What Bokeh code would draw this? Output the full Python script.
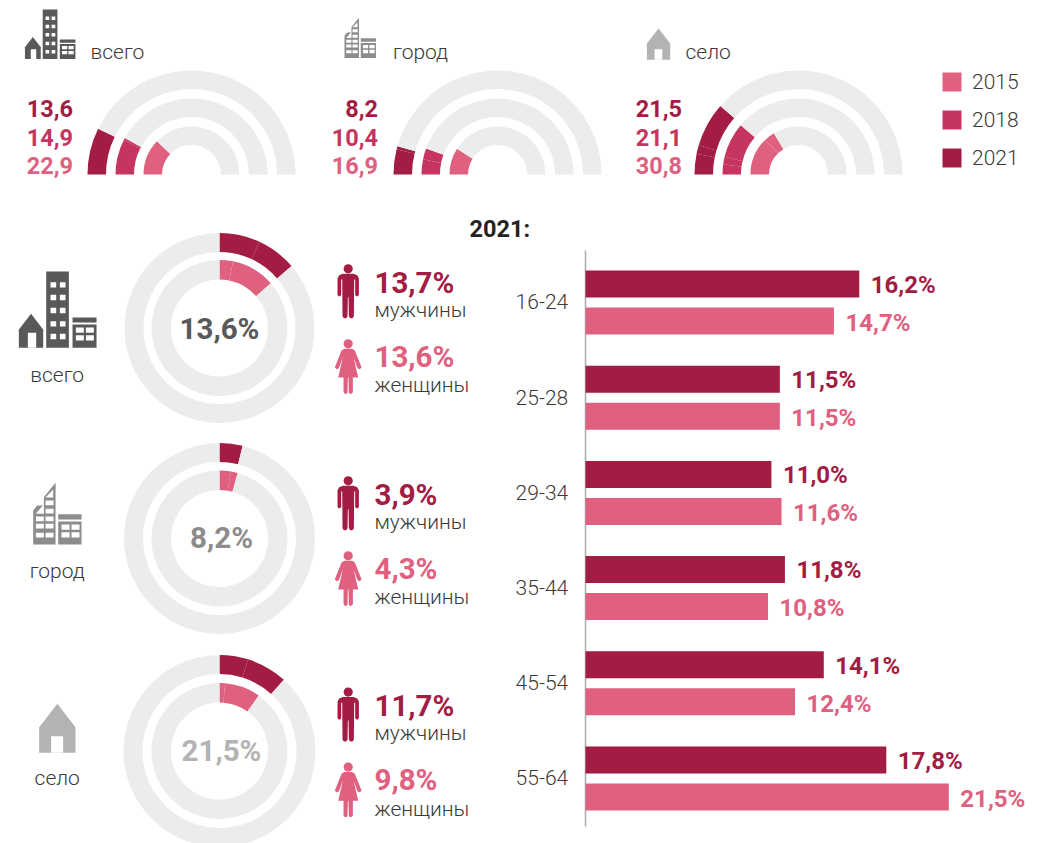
import math
from bokeh.plotting import figure
from bokeh.models import Range1d
from bokeh.core.properties import value
from bokeh.embed import file_html
from bokeh.resources import INLINE

# ---------- data ----------
years = ["2015", "2018", "2021"]
areas = ["всего", "город", "село"]
arc_2021 = [13.6, 8.2, 21.5]
arc_2018 = [14.9, 10.4, 21.1]
arc_2015 = [22.9, 16.9, 30.8]
# sub-parts of every filled arc, outer to inner ring
arc_parts = [
    [[13.6], [14.1, 0.8], [22.9]],
    [[7.3, 0.9], [6.0, 4.4], [16.9]],
    [[6.0, 2.5, 13.0], [4.0, 3.0, 14.1], [24.0, 6.8]],
]
arc_rest_split = [[19.2, None, 33.2], [10.1, None, 22.2], [None, None, None]]
arc_full_scale = 93.75

total_2021 = ["13,6%", "8,2%", "21,5%"]
men = [13.7, 3.9, 11.7]
women = [13.6, 4.3, 9.8]
men_parts = [[6.9, 6.8], [3.9], [4.8, 6.9]]
women_parts = [[3.2, 10.4], [2.7, 1.6], [1.3, 8.5]]

age_groups = ["16-24", "25-28", "29-34", "35-44", "45-54", "55-64"]
age_2021 = [16.2, 11.5, 11.0, 11.8, 14.1, 17.8]
age_2015 = [14.7, 11.5, 11.6, 10.8, 12.4, 21.5]

# ---------- style / layout ----------
DARK, MID, LIGHT, GREY = "#A31C44", "#C63560", "#E0607F", "#ECECEC"
TXT = "#3A3A3A"
ICON = ["#595959", "#8C8C8C", "#B3B3B3"]
REG, THIN = value("Roboto"), value("Roboto Light")
PAGE_W, PAGE_H = 1046, 843
BASE_SHIFT = 0.36  # em; the renderer places "alphabetic" text this far below the anchor


def Y(py):
    return PAGE_H - py


p = figure(width=PAGE_W, height=PAGE_H, x_range=Range1d(0, PAGE_W), y_range=Range1d(0, PAGE_H),
           output_backend="svg", toolbar_location=None, min_border=0, outline_line_color=None,
           background_fill_color="white", border_fill_color="white")
p.axis.visible = False
p.grid.visible = False
BAR_PX = 16.9
BAR_X0 = 585
p.extra_x_ranges["bars"] = Range1d((0 - BAR_X0) / BAR_PX, (PAGE_W - BAR_X0) / BAR_PX)


def txt(x, py, s, size, color, font=REG, style="normal", align="left"):
    p.text([x], [Y(py - BASE_SHIFT * size)], text=[s], text_font=font, text_font_style=style,
           text_font_size=f"{size}px", text_color=color, text_align=align,
           text_baseline="alphabetic")


def wedge(cx, cy, r0, r1, a0, a1, color):
    p.annular_wedge([cx], [Y(cy)], inner_radius=r0, outer_radius=r1,
                    start_angle=a0, end_angle=a1, direction="clock",
                    fill_color=color, line_color=None)


def parts_ring(cx, cy, r0, r1, base, per_unit, parts, color, rest_split, full):
    """Clockwise ring built from value parts, then its grey remainder."""
    v = 0.0
    for q in parts:
        wedge(cx, cy, r0, r1, base - v * per_unit, base - (v + q) * per_unit, color)
        v += q
    marks = [v] + ([rest_split] if rest_split else []) + [full]
    for a, b in zip(marks[:-1], marks[1:]):
        wedge(cx, cy, r0, r1, base - a * per_unit, base - b * per_unit, GREY)


def shape(pts, x0, y0, k, color):
    p.patch([x0 + a * k for a, b in pts], [Y(y0 + b * k) for a, b in pts],
            fill_color=color, line_color=None)


def box(x0, y0, k, l, r, t, b, color):
    p.quad(left=[x0 + l * k], right=[x0 + r * k], top=[Y(y0 + t * k)], bottom=[Y(y0 + b * k)],
           fill_color=color, line_color=None)


def block(x0, y0, k, c, l=163, t=138, r=235, bar=15, gap=6, bot=229):
    box(x0, y0, k, l, r, t, t + bar, c)
    box(x0, y0, k, l, r, t + bar + gap, bot, c)
    for wx in (l + 10, l + 40):
        for wy in (t + bar + gap + 9, t + bar + gap + 32):
            box(x0, y0, k, wx, wx + 24, wy, wy + 16, "white")


def house(x0, y0, k, c, w=77, top=0, eave=50, bot=102, door=(29, 54), dy=72):
    shape([(w / 2, top), (w, eave), (w - 2, eave), (w - 2, bot), (2, bot), (2, eave), (0, eave)],
          x0, y0, k, c)
    box(x0, y0, k, door[0], door[1], top + dy - 15, bot, "white")


def icon_all(x0, y0, k):
    c = ICON[0]
    house(x0, y0 + 127 * k, k, c)
    box(x0, y0, k, 84, 152, 0, 229, c)
    for row in (32, 70, 109, 149, 187):
        for col in (97, 125):
            box(x0, y0, k, col, col + 17, row, row + 16, "white")
    block(x0, y0, k, c)


def icon_city(x0, y0, k):
    c = ICON[1]
    shape([(0, 83), (67, 0), (67, 185), (0, 185)], x0, y0, k, c)
    for row in (150, 123, 101, 78, 53):
        for col in (8, 37):
            if row < 80 and col == 8:
                shape([(8, row + 15), (32, row + 15), (32, row - 14)], x0, y0, k, "white")
            else:
                box(x0, y0, k, col, col + 24, row, row + 14, "white")
    shape([(37, 44), (60, 44), (60, 20)], x0, y0, k, "white")
    block(x0, y0, k, c, l=75, t=94, r=145, bar=16, gap=6, bot=185)


def icon_village(x0, y0, k):
    c = ICON[2]
    house(x0, y0, k, c, w=113, top=0, eave=73, bot=147, door=(38, 74), dy=112)


def person(x, y, pts, color):
    p.circle([x], [Y(y)], radius=4.6, fill_color=color, line_color=None)
    shape(pts, x, y, 1 / 3, color)


MALE = [(-16, 15), (16, 15), (27, 19), (32, 28), (32, 78), (29, 82), (24, 82), (21, 78), (21, 32),
        (18, 32), (17, 142), (13, 148), (6, 148), (2, 142), (1, 85), (-1, 85), (-2, 142), (-6, 148),
        (-13, 148), (-17, 142), (-18, 32), (-21, 32), (-21, 78), (-24, 82), (-29, 82), (-32, 78),
        (-32, 28), (-27, 19)]
FEMALE = [(-12, 15), (12, 15), (20, 20), (40, 70), (35, 76), (28, 73), (16, 40), (30, 101), (14, 101),
          (14, 145), (10, 150), (4, 150), (2, 145), (1, 101), (-1, 101), (-2, 145), (-4, 150),
          (-10, 150), (-14, 145), (-14, 101), (-30, 101), (-16, 40), (-28, 73), (-35, 76),
          (-40, 70), (-20, 20)]

# ---------- top half rings ----------
semi_cx = [191, 497, 798]
semi_label_x = [72.5, 377.5, 681.5]
title_x = [90, 392.5, 685]
semi_cy = 174
rings = [(85.5, 104), (57.5, 76), (29.5, 48)]
ring_colors = [DARK, MID, LIGHT]
for i in range(3):
    for j, (r0, r1) in enumerate(rings):
        parts_ring(semi_cx[i], semi_cy, r0, r1, math.pi, math.pi / arc_full_scale,
                   arc_parts[i][j], ring_colors[j], arc_rest_split[i][j], arc_full_scale)
    for v, py, c in zip((arc_2021[i], arc_2018[i], arc_2015[i]), (116.7, 145, 173), ring_colors):
        txt(semi_label_x[i], py, f"{v}".replace(".", ","), 23.5, c, style="bold", align="right")
    txt(title_x[i], 59, areas[i], 21, TXT, font=THIN)

icon_all(24, 9, 0.65 / 3)
icon_city(344, 17.3, 0.65 / 3)
icon_village(646, 28, 0.64 / 3)

# legend
for y0, c, s in zip((72, 110, 148), (LIGHT, MID, DARK), years):
    p.quad(left=[942], right=[961], top=[Y(y0)], bottom=[Y(y0 + 19)], fill_color=c, line_color=None)
    txt(971.5, y0 + 17, s, 21, TXT, font=THIN)

# ---------- donuts ----------
don_cy = [327.5, 538, 750.5]
don_ro = [95, 95.5, 96]
pct = 2 * math.pi / 100
row_shift = [0, 212, 423.3]
center_x = [219, 221, 221]
center_base = [339, 548.5, 761.5]
label_base = [381.7, 577.7, 785]
grey_split = [None, 10.0, None]
for i in range(3):
    ro = don_ro[i]
    parts_ring(219, don_cy[i], ro - 19, ro, math.pi / 2, pct, men_parts[i], DARK, grey_split[i], 100)
    parts_ring(219, don_cy[i], 48.5, 68, math.pi / 2, pct, women_parts[i], LIGHT, None, 100)
    txt(center_x[i], center_base[i], total_2021[i], 29.5, ICON[i], style="bold", align="center")
    txt(56.7, label_base[i], areas[i], 21, TXT, font=THIN, align="center")
    s = row_shift[i]
    person(347.7, 268.3 + s, MALE, DARK)
    person(347.7, 343.3 + s, FEMALE, LIGHT)
    txt(374, 292.7 + s, f"{men[i]}%".replace(".", ","), 29.5, DARK, style="bold")
    txt(374, 317 + s, "мужчины", 21, TXT, font=THIN)
    txt(374, 367 + s, f"{women[i]}%".replace(".", ","), 29.5, LIGHT, style="bold")
    txt(374, 392.5 + s, "женщины", 21, TXT, font=THIN)

icon_all(17.7, 271, 1 / 3)
icon_city(32.7, 482.3, 1 / 3)
icon_village(38, 703.3, 1 / 3)

# ---------- bars ----------
txt(469, 236.7, "2021:", 23.5, "#222222", style="bold")
bar_top = [270 + 95.2 * i for i in range(len(age_groups))]
p.segment([BAR_X0], [Y(250)], [BAR_X0], [Y(826)], line_color="#AAAAAA", line_width=1.5)
p.hbar(y=[Y(t + 13.5) for t in bar_top], height=27, left=0, right=age_2021,
       fill_color=DARK, line_color=None, x_range_name="bars")
p.hbar(y=[Y(t + 50.5) for t in bar_top], height=27, left=0, right=age_2015,
       fill_color=LIGHT, line_color=None, x_range_name="bars")
LBL = 24
for i, g in enumerate(age_groups):
    t = bar_top[i]
    txt(567.7, t + 39, g, 21, TXT, font=THIN, align="right")
    p.text([age_2021[i]], [Y(t + 23 - BASE_SHIFT * LBL)], text=[f"{age_2021[i]}%".replace(".", ",")],
           x_offset=11.5, x_range_name="bars", text_font=REG, text_font_style="bold",
           text_font_size=f"{LBL}px", text_color=DARK, text_baseline="alphabetic")
    p.text([age_2015[i]], [Y(t + 61 - BASE_SHIFT * LBL)], text=[f"{age_2015[i]}%".replace(".", ",")],
           x_offset=11.5, x_range_name="bars", text_font=REG, text_font_style="bold",
           text_font_size=f"{LBL}px", text_color=LIGHT, text_baseline="alphabetic")

open("out.html", "w").write(file_html(p, INLINE))
